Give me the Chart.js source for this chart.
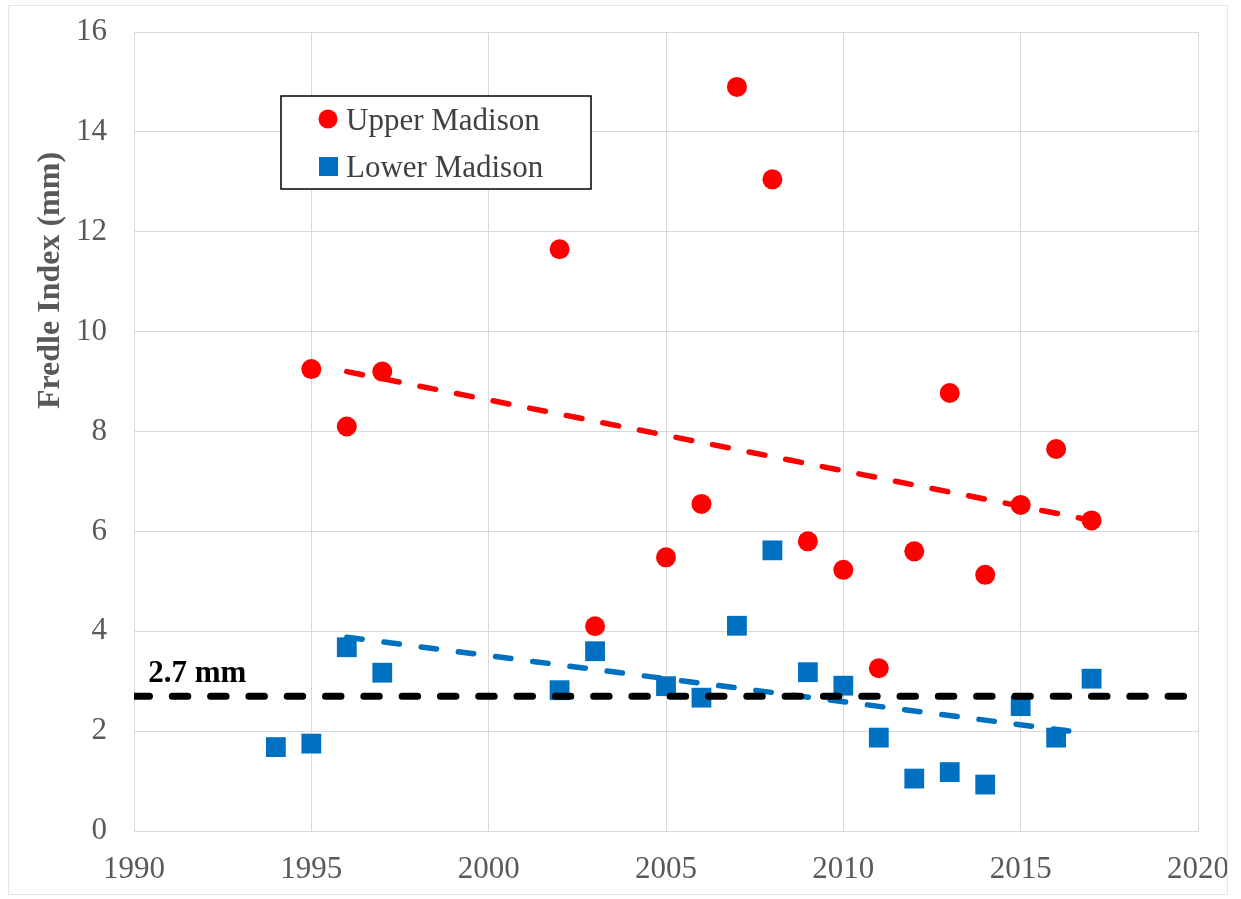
<!DOCTYPE html>
<html>
<head>
<meta charset="utf-8">
<script src="https://cdn.jsdelivr.net/npm/chart.js@4.4.1/dist/chart.umd.min.js"></script>
<style>
  html, body { margin: 0; padding: 0; background: #fff; }
  #wrap { position: relative; width: 1241px; height: 899px; }
  #frame { position: absolute; left: 8px; top: 5px; width: 1218px; height: 888px; border: 1px solid #e6e6e6; pointer-events: none; }
</style>
</head>
<body>
<div id="wrap">
  <canvas id="chart"></canvas>
  <div id="frame"></div>
</div>
<script>
// Upper Madison (red circles)
const upperYears = [1995, 1996, 1997, 2002, 2003, 2005, 2006, 2007, 2008, 2009, 2010, 2011, 2012, 2013, 2014, 2015, 2016, 2017];
const upperValues = [9.25, 8.1, 9.2, 11.65, 4.1, 5.48, 6.55, 14.9, 13.05, 5.8, 5.23, 3.26, 5.6, 8.77, 5.13, 6.53, 7.65, 6.22];

// Lower Madison (blue squares)
const lowerYears = [1994, 1995, 1996, 1997, 2002, 2003, 2005, 2006, 2007, 2008, 2009, 2010, 2011, 2012, 2013, 2014, 2015, 2016, 2017];
const lowerValues = [1.68, 1.75, 3.68, 3.17, 2.82, 3.6, 2.9, 2.67, 4.11, 5.62, 3.18, 2.91, 1.87, 1.05, 1.18, 0.93, 2.5, 1.87, 3.05];

// trend lines (end points)
const upperTrendYears = [1996, 2017];
const upperTrendValues = [9.2, 6.22];
const lowerTrendYears = [1996, 2016.7];
const lowerTrendValues = [3.88, 1.97];

// threshold
const thresholdYears = [1990, 2020];
const thresholdValue = 2.7;
const thresholdLabel = "2.7 mm";
const thresholdLabelYear = 1990.4;

const xTicks = [1990, 1995, 2000, 2005, 2010, 2015, 2020];
const yTicks = [0, 2, 4, 6, 8, 10, 12, 14, 16];
const yTitle = "Fredle Index (mm)";
const seriesNames = ["Upper Madison", "Lower Madison"];

const RED = "#ff0000";
const BLUE = "#0070c0";
const GRID = "#d9d9d9";
const TICK = "#595959";
const SERIF = "'Liberation Serif', 'Times New Roman', serif";

function toPoints(xs, ys) {
  return xs.map((x, i) => ({ x: x, y: ys[i] }));
}

// drop the label overhang padding so layout.padding alone sets the plot box
function noOverhang(s) {
  s.paddingTop = 0;
  s.paddingBottom = 0;
  s.paddingLeft = 0;
  s.paddingRight = 0;
}

const extras = {
  id: "extras",
  afterDatasetsDraw(chart) {
    const ctx = chart.ctx;
    const xs = chart.scales.x;
    const ys = chart.scales.y;
    const area = chart.chartArea;

    // threshold label
    ctx.save();
    ctx.font = "bold 31px " + SERIF;
    ctx.fillStyle = "#000";
    ctx.textAlign = "left";
    ctx.textBaseline = "alphabetic";
    ctx.fillText(thresholdLabel, xs.getPixelForValue(thresholdLabelYear), ys.getPixelForValue(thresholdValue) - 14);
    ctx.restore();

    // legend box
    const left = area.left + 147;
    const top = area.top + 64;
    ctx.save();
    ctx.fillStyle = "#fff";
    ctx.fillRect(left, top, 310, 93);
    ctx.strokeStyle = "#000";
    ctx.lineWidth = 1.5;
    ctx.strokeRect(left, top, 310, 93);

    ctx.fillStyle = RED;
    ctx.beginPath();
    ctx.arc(left + 47, top + 23, 9.5, 0, Math.PI * 2);
    ctx.fill();
    ctx.fillStyle = BLUE;
    ctx.fillRect(left + 38, top + 61, 19, 19);

    ctx.font = "31px " + SERIF;
    ctx.fillStyle = "#404040";
    ctx.textAlign = "left";
    ctx.textBaseline = "alphabetic";
    ctx.fillText(seriesNames[0], left + 65, top + 34);
    ctx.fillText(seriesNames[1], left + 65, top + 81);
    ctx.restore();

    // y axis title
    ctx.save();
    ctx.translate(59, (area.top + area.bottom) / 2 - 151);
    ctx.rotate(-Math.PI / 2);
    ctx.font = "bold 32px " + SERIF;
    ctx.fillStyle = TICK;
    ctx.textAlign = "center";
    ctx.textBaseline = "alphabetic";
    ctx.fillText(yTitle, 0, 0);
    ctx.restore();
  }
};

new Chart(document.getElementById("chart"), {
  type: "scatter",
  data: {
    datasets: [
      {
        label: "threshold",
        data: toPoints(thresholdYears, thresholdYears.map(() => thresholdValue)),
        showLine: true,
        borderColor: "#000",
        borderWidth: 7,
        borderDash: [15.5, 22.8],
        borderCapStyle: "round",
        pointRadius: 0,
        fill: false,
        order: 1
      },
      {
        label: "Lower trend",
        data: toPoints(lowerTrendYears, lowerTrendValues),
        showLine: true,
        borderColor: BLUE,
        borderWidth: 5.5,
        borderDash: [15.5, 22],
        borderCapStyle: "round",
        pointRadius: 0,
        fill: false,
        order: 1
      },
      {
        label: "Upper trend",
        data: toPoints(upperTrendYears, upperTrendValues),
        showLine: true,
        borderColor: RED,
        borderWidth: 5.5,
        borderDash: [16, 21.3],
        borderCapStyle: "round",
        pointRadius: 0,
        fill: false,
        order: 1
      },
      {
        label: seriesNames[0],
        data: toPoints(upperYears, upperValues),
        pointStyle: "circle",
        pointRadius: 10,
        pointBackgroundColor: RED,
        pointBorderWidth: 0,
        order: 2
      },
      {
        label: seriesNames[1],
        data: toPoints(lowerYears, lowerValues),
        pointStyle: "rect",
        pointRadius: 14,
        pointBackgroundColor: BLUE,
        pointBorderWidth: 0,
        order: 2
      }
    ]
  },
  options: {
    responsive: true,
    maintainAspectRatio: false,
    animation: false,
    layout: { padding: { left: 0, right: 43, top: 32, bottom: 0 } },
    plugins: {
      legend: { display: false },
      tooltip: { enabled: false }
    },
    scales: {
      x: {
        type: "linear",
        min: xTicks[0],
        max: xTicks[xTicks.length - 1],
        afterBuildTicks: s => { s.ticks = xTicks.map(v => ({ value: v })); },
        afterFit: s => { s.height = 68; noOverhang(s); },
        grid: { color: GRID, lineWidth: 1, drawTicks: false },
        border: { color: GRID, width: 1 },
        ticks: {
          padding: 20,
          color: TICK,
          font: { family: SERIF, size: 31 },
          callback: v => String(v)
        }
      },
      y: {
        type: "linear",
        min: yTicks[0],
        max: yTicks[yTicks.length - 1],
        afterBuildTicks: s => { s.ticks = yTicks.map(v => ({ value: v })); },
        afterFit: s => { s.width = 134; noOverhang(s); },
        grid: { color: GRID, lineWidth: 1, drawTicks: false },
        border: { color: GRID, width: 1 },
        ticks: {
          padding: 27,
          color: TICK,
          font: { family: SERIF, size: 31 },
          callback: v => String(v)
        }
      }
    }
  },
  plugins: [extras]
});
</script>
</body>
</html>
